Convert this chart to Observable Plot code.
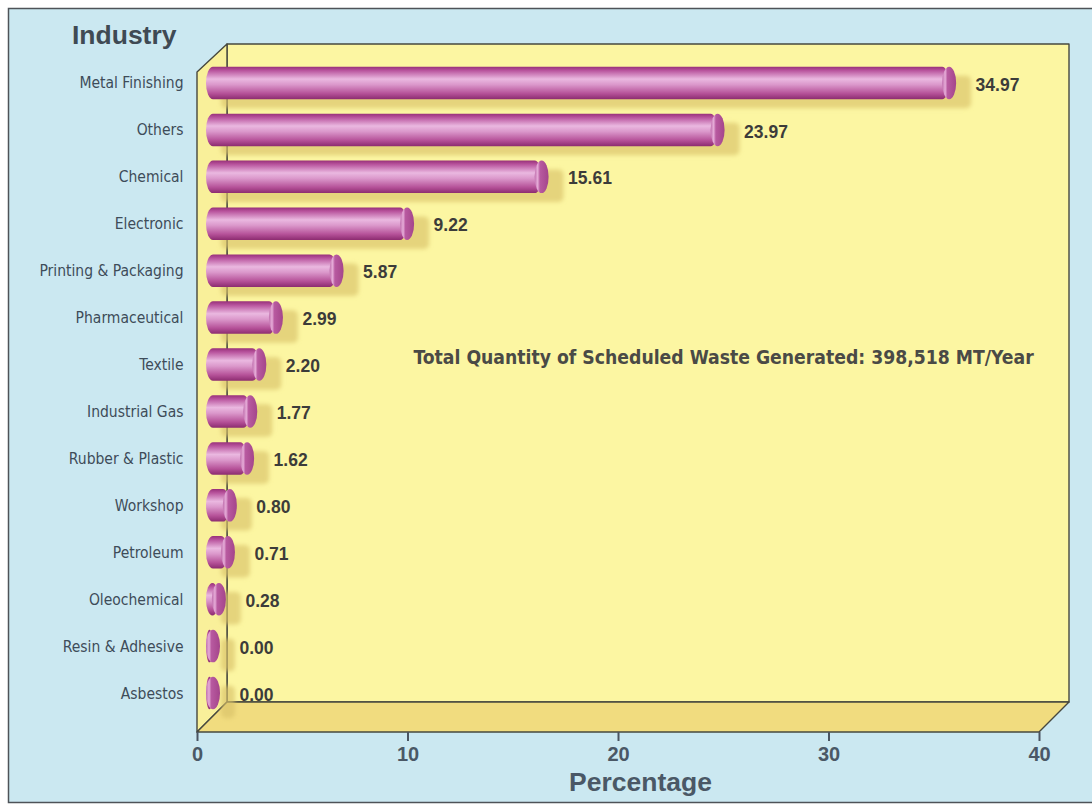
<!DOCTYPE html>
<html>
<head>
<meta charset="utf-8">
<script src="https://cdn.jsdelivr.net/npm/d3@7"></script>
<script src="https://cdn.jsdelivr.net/npm/@observablehq/plot@0.6"></script>
<style>
  html, body { margin: 0; padding: 0; background: #ffffff; }
  #chart { width: 1092px; height: 804px; }
</style>
</head>
<body>
<div id="chart"></div>
<script>
// Scheduled waste generated by industry, percentage share
const industries = [
  "Metal Finishing", "Others", "Chemical", "Electronic", "Printing & Packaging",
  "Pharmaceutical", "Textile", "Industrial Gas", "Rubber & Plastic", "Workshop",
  "Petroleum", "Oleochemical", "Resin & Adhesive", "Asbestos"
];
const shares = [34.97, 23.97, 15.61, 9.22, 5.87, 2.99, 2.20, 1.77, 1.62, 0.80, 0.71, 0.28, 0.00, 0.00];
const xTicks = [0, 10, 20, 30, 40];
const xTitle = "Percentage";
const yTitle = "Industry";
const totalNote = "Total Quantity of Scheduled Waste Generated: 398,518 MT/Year";

const data = industries.map((name, i) => ({name, share: shares[i]}));

// layout
const W = 1092, H = 804;
const DEPTH = 30;      // 3D depth of the box (x right, y up)
const WALL_TOP = 44;   // top edge of the back wall
const TUBE = 16;       // tube axis offset from the front plane
const CAP = 7;         // half width of the tube end ellipses
const THICK = 7.2;     // inset that leaves the tube diameter inside each band

const narrow = "'Liberation Sans Narrow', 'Arial Narrow', 'DejaVu Sans Condensed', sans-serif";
const wide = "'Liberation Sans', Arial, Helvetica, sans-serif";

// panel, back wall, left wall and floor of the box
function backdrop(index, scales, values, dims) {
  const x0 = scales.x(0), x1 = scales.x(40);
  const yf = dims.height - dims.marginBottom;
  const bx0 = x0 + DEPTH, bx1 = x1 + DEPTH, yb = yf - DEPTH;
  const g = d3.create("svg:g");
  g.append("rect")
    .attr("x", 8.5).attr("y", 8.5).attr("width", W + 20).attr("height", H - 10)
    .attr("fill", "#cbe8f1").attr("stroke", "#4e5358").attr("stroke-width", 1.5);
  const edge = sel => sel.attr("stroke", "#47483f").attr("stroke-width", 1.4).attr("stroke-linejoin", "round");
  g.append("rect")
    .attr("x", bx0).attr("y", WALL_TOP).attr("width", bx1 - bx0).attr("height", yb - WALL_TOP)
    .attr("fill", "#fcf6a2").call(edge);
  g.append("path")
    .attr("d", `M${x0},${WALL_TOP + DEPTH - 2}L${bx0},${WALL_TOP}L${bx0},${yb}L${x0},${yf}Z`)
    .attr("fill", "#f9f09a").call(edge);
  g.append("path")
    .attr("d", `M${x0},${yf}L${x1},${yf}L${bx1},${yb}L${bx0},${yb}Z`)
    .attr("fill", "#f1dc7f").call(edge);
  return g.node();
}

const chart = Plot.plot({
  width: W,
  height: H,
  marginLeft: 197,
  marginRight: 53,
  marginTop: 59.5,
  marginBottom: 72,
  style: {background: "transparent", overflow: "visible"},
  x: {domain: [0, 40]},
  y: {type: "band", domain: industries, range: [59.5, 716.5], padding: 0, round: false},
  marks: [
    backdrop,
    // shadows cast on the back wall
    Plot.barX(data, {
      x1: 0, x2: "share", y: "name",
      dx: TUBE + 15, dy: 9,
      insetLeft: -CAP, insetRight: -CAP, insetTop: THICK, insetBottom: THICK,
      rx: 5, fill: "#d9c268", fillOpacity: 0.65
    }),
    // tube bodies
    Plot.barX(data, {
      x1: 0, x2: "share", y: "name",
      dx: TUBE,
      insetLeft: -CAP, insetTop: THICK, insetBottom: THICK,
      rx: CAP, ry: 16, fill: "url(#tube)"
    }),
    // tube end caps
    Plot.barX(data, {
      x1: "share", x2: "share", y: "name",
      dx: TUBE,
      insetLeft: -CAP, insetRight: -CAP, insetTop: THICK, insetBottom: THICK,
      rx: CAP, ry: 16, fill: "url(#cap)"
    }),
    // value labels
    Plot.text(data, {
      x: "share", y: "name", text: d => d.share.toFixed(2),
      dx: 42, dy: 1.5, textAnchor: "start",
      fontSize: 17.5, fontWeight: "bold", fontFamily: wide, fill: "#3c3c3a"
    }),
    Plot.axisX({
      ticks: xTicks, tickSize: 9, tickPadding: 5, tickFormat: d => String(d),
      fontSize: 20, fontWeight: "bold", fontFamily: wide,
      stroke: "#4a5562", fill: "#4a5866", strokeWidth: 2, label: null
    }),
    Plot.axisY({
      tickSize: 0, tickPadding: 14, fontSize: 15.5, fontFamily: narrow,
      fill: "#3e4c59", label: null
    }),
    Plot.text([yTitle], {
      frameAnchor: "top-left", text: d => d, dx: -21, dy: -24,
      textAnchor: "end", lineAnchor: "middle",
      fontSize: 26.5, fontWeight: "bold", fontFamily: wide, fill: "#3f4a54"
    }),
    Plot.text([xTitle], {
      frameAnchor: "bottom", text: d => d, dx: 22, dy: 50,
      lineAnchor: "middle",
      fontSize: 26.5, fontWeight: "bold", fontFamily: wide, fill: "#4a5866"
    }),
    Plot.text([totalNote], {
      frameAnchor: "top-left", text: d => d, dx: 216, dy: 298,
      textAnchor: "start", lineAnchor: "middle",
      fontSize: 19.2, fontWeight: "bold", fontFamily: narrow, fill: "#4a4a46"
    })
  ]
});

// gradients for the tubes and a soft edge for the shadows
const svg = d3.select(chart);
svg.insert("defs", ":first-child").html(`
  <linearGradient id="tube" x1="0" y1="0" x2="0" y2="1">
    <stop offset="0" stop-color="#98307a"/>
    <stop offset="0.12" stop-color="#b9559e"/>
    <stop offset="0.38" stop-color="#eab8e0"/>
    <stop offset="0.55" stop-color="#db98cb"/>
    <stop offset="0.82" stop-color="#b65299"/>
    <stop offset="1" stop-color="#8c2c70"/>
  </linearGradient>
  <linearGradient id="cap" x1="0" y1="0" x2="1" y2="0">
    <stop offset="0" stop-color="#c070ae"/>
    <stop offset="0.22" stop-color="#e6acd8"/>
    <stop offset="0.38" stop-color="#b85aa0"/>
    <stop offset="1" stop-color="#a4458b"/>
  </linearGradient>
  <filter id="soften" x="-10%" y="-50%" width="120%" height="200%">
    <feGaussianBlur stdDeviation="2"/>
  </filter>
`);
const bars = svg.selectAll('g[aria-label="bar"]').nodes();
if (bars.length) bars[0].setAttribute("filter", "url(#soften)");

document.getElementById("chart").appendChild(chart);
</script>
</body>
</html>
